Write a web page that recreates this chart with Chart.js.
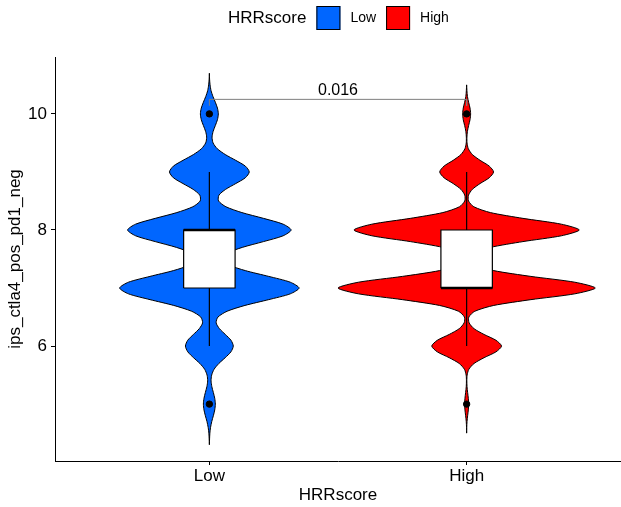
<!DOCTYPE html>
<html>
<head>
<meta charset="utf-8">
<script src="https://cdn.jsdelivr.net/npm/chart.js@4/dist/chart.umd.min.js"></script>
<style>
  html, body { margin: 0; padding: 0; background: #fff; overflow: hidden; }
  canvas { display: block; }
</style>
</head>
<body>
<canvas id="canvas" width="621" height="507"></canvas>
<script>
// groups
var categories = ['Low', 'High'];
var groupColors = ['#0066FF', '#FF0000'];
var legendTitle = 'HRRscore';
var yTitle = 'ips_ctla4_pos_pd1_neg';

// violin density profiles (value grid + density)
var lowGridY = [4.3, 4.4, 4.5, 4.6, 4.7, 4.8, 4.9, 5.0, 5.1, 5.2, 5.3, 5.4, 5.5, 5.6, 5.7, 5.8, 5.9,
    6.0, 6.1, 6.2, 6.3, 6.4, 6.5, 6.6, 6.7, 6.8, 6.9, 7.0, 7.1, 7.2, 7.3, 7.4, 7.5, 7.6, 7.7, 7.8, 7.9,
    8.0, 8.1, 8.2, 8.3, 8.4, 8.5, 8.6, 8.7, 8.8, 8.9, 9.0, 9.1, 9.2, 9.3, 9.4, 9.5, 9.6, 9.7, 9.8, 9.9,
    10.0, 10.1, 10.2, 10.3, 10.4, 10.5, 10.6, 10.7];
var lowDensity = [0.000, 0.002, 0.005, 0.012, 0.024, 0.040, 0.054, 0.060, 0.054, 0.040, 0.025, 0.017, 0.023, 0.047, 0.095, 0.159, 0.216,
    0.240, 0.217, 0.160, 0.101, 0.068, 0.086, 0.178, 0.357, 0.595, 0.812, 0.900, 0.812, 0.596, 0.361, 0.192, 0.130, 0.179, 0.330, 0.543, 0.740,
    0.820, 0.740, 0.543, 0.326, 0.166, 0.092, 0.096, 0.163, 0.265, 0.361, 0.400, 0.361, 0.264, 0.159, 0.079, 0.037, 0.027, 0.038, 0.060, 0.081,
    0.090, 0.081, 0.060, 0.036, 0.017, 0.007, 0.002, 0.000];
var highGridY = [4.5, 4.6, 4.7, 4.8, 4.9, 5.0, 5.1, 5.2, 5.3, 5.4, 5.5, 5.6, 5.7, 5.8, 5.9,
    6.0, 6.1, 6.2, 6.3, 6.4, 6.5, 6.6, 6.7, 6.8, 6.9, 7.0, 7.1, 7.2, 7.3, 7.4, 7.5, 7.6, 7.7, 7.8, 7.9,
    8.0, 8.1, 8.2, 8.3, 8.4, 8.5, 8.6, 8.7, 8.8, 8.9, 9.0, 9.1, 9.2, 9.3, 9.4, 9.5, 9.6, 9.7, 9.8, 9.9,
    10.0, 10.1, 10.2, 10.3, 10.4, 10.5];
var highDensity = [0.000, 0.001, 0.004, 0.010, 0.017, 0.020, 0.017, 0.010, 0.004, 0.002, 0.005, 0.022, 0.074, 0.175, 0.294,
    0.350, 0.294, 0.175, 0.074, 0.025, 0.022, 0.082, 0.272, 0.645, 1.085, 1.290, 1.085, 0.645, 0.272, 0.083, 0.032, 0.074, 0.239, 0.565, 0.950,
    1.130, 0.950, 0.565, 0.238, 0.072, 0.019, 0.019, 0.057, 0.135, 0.227, 0.270, 0.227, 0.135, 0.057, 0.017, 0.004, 0.003, 0.008, 0.020, 0.034,
    0.040, 0.034, 0.020, 0.008, 0.003, 0.000];

// boxplot stats
var boxQ1 = [7, 7];
var boxMedian = [8, 7];
var boxQ3 = [8, 8];
var whiskerLow = [6, 6];
var whiskerHigh = [9, 9];
var outliers = [[5, 10], [5, 10]];

var yTicks = [6, 8, 10];
var pValue = '0.016';

var FONT = "'Liberation Sans', Arial, sans-serif";
var DENS_W = 0.3876;   // density -> category units
var BOX_HALF = 0.1;
var BRACKET_Y = 10.25, BRACKET_TIP = 10.14;

function violinPoints(center, ys, ds) {
    var pts = [];
    for (var i = 0; i < ys.length; i++) pts.push({ x: center + ds[i] * DENS_W, y: ys[i] });
    for (var j = ys.length - 1; j >= 0; j--) pts.push({ x: center - ds[j] * DENS_W, y: ys[j] });
    return pts;
}

var datasets = [];
var profiles = [[lowGridY, lowDensity], [highGridY, highDensity]];

categories.forEach(function (c, i) {
    var cx = i + 1;
    datasets.push({
        label: c,
        data: violinPoints(cx, profiles[i][0], profiles[i][1]),
        showLine: true, fill: 'shape', tension: 0.25,
        backgroundColor: groupColors[i], borderColor: '#000', borderWidth: 1,
        pointRadius: 0, pointHitRadius: 0, order: 10
    });
    datasets.push({
        label: c + ' whisker',
        data: [{ x: cx, y: whiskerLow[i] }, { x: cx, y: whiskerHigh[i] }],
        showLine: true, fill: false, borderColor: '#000', borderWidth: 1.2,
        pointRadius: 0, order: 8
    });
    datasets.push({
        label: c + ' box',
        data: [{ x: cx - BOX_HALF, y: boxQ1[i] }, { x: cx + BOX_HALF, y: boxQ1[i] }, { x: cx + BOX_HALF, y: boxQ3[i] },
               { x: cx - BOX_HALF, y: boxQ3[i] }, { x: cx - BOX_HALF, y: boxQ1[i] }],
        showLine: true, fill: 'shape', tension: 0,
        backgroundColor: '#fff', borderColor: '#000', borderWidth: 1.2,
        pointRadius: 0, order: 6
    });
    datasets.push({
        label: c + ' median',
        data: [{ x: cx - BOX_HALF, y: boxMedian[i] }, { x: cx + BOX_HALF, y: boxMedian[i] }],
        showLine: true, fill: false, borderColor: '#000', borderWidth: 2.6,
        pointRadius: 0, order: 5
    });
    datasets.push({
        label: c + ' outliers',
        data: outliers[i].map(function (v) { return { x: cx, y: v }; }),
        showLine: false, pointRadius: 3.2, pointBackgroundColor: '#000', pointBorderColor: '#000',
        order: 4
    });
});

datasets.push({
    label: 'bracket',
    data: [{ x: 1, y: BRACKET_TIP }, { x: 1, y: BRACKET_Y }, { x: 2, y: BRACKET_Y }, { x: 2, y: BRACKET_TIP }],
    showLine: true, fill: false, borderColor: '#7f7f7f', borderWidth: 1, pointRadius: 0, order: 2
});

var annotate = {
    id: 'annotate',
    afterDatasetsDraw: function (chart) {
        var ctx = chart.ctx, xs = chart.scales.x, ys = chart.scales.y;
        ctx.save();
        ctx.fillStyle = '#000';
        ctx.font = '16px ' + FONT;
        ctx.textAlign = 'center';
        ctx.textBaseline = 'alphabetic';
        ctx.fillText(pValue, xs.getPixelForValue(1.5), ys.getPixelForValue(BRACKET_Y) - 4);
        ctx.restore();
    },
    afterDraw: function (chart) {
        // legend: title + keys in one row
        var ctx = chart.ctx;
        ctx.save();
        ctx.textBaseline = 'middle';
        ctx.textAlign = 'left';
        ctx.fillStyle = '#000';
        ctx.font = '17px ' + FONT;
        var x = 228, yMid = 18;
        ctx.fillText(legendTitle, x, yMid);
        x += ctx.measureText(legendTitle).width + 10;
        ctx.font = '14px ' + FONT;
        categories.forEach(function (c, i) {
            ctx.fillStyle = groupColors[i];
            ctx.fillRect(x, 6, 24, 24);
            ctx.strokeStyle = '#000';
            ctx.lineWidth = 1;
            ctx.strokeRect(x + 0.5, 6.5, 23, 23);
            ctx.fillStyle = '#000';
            ctx.fillText(c, x + 34, yMid);
            x += 34 + ctx.measureText(c).width + 10;
        });
        ctx.restore();
    }
};

var ctx = document.getElementById('canvas').getContext('2d');
var pChart = new Chart(ctx, {
    type: 'scatter',
    data: { datasets: datasets },
    options: {
        responsive: false,
        animation: false,
        layout: { autoPadding: false, padding: { top: 57, right: 0, bottom: 0, left: 0 } },
        plugins: {
            legend: { display: false },
            tooltip: { enabled: false },
            filler: { drawTime: 'beforeDatasetDraw' }
        },
        scales: {
            x: {
                type: 'linear', min: 0.4, max: 2.6,
                afterBuildTicks: function (s) { s.ticks = categories.map(function (c, i) { return { value: i + 1 }; }); },
                afterFit: function (s) { s.height = 46; s.paddingLeft = 0; s.paddingRight = 0; },
                ticks: {
                    color: '#000', font: { size: 17, family: FONT }, padding: 1,
                    callback: function (v) { return categories[v - 1]; }
                },
                grid: { display: true, drawOnChartArea: false, drawTicks: true, tickLength: 4, color: '#000' },
                border: { display: true, color: '#000', width: 1 },
                title: { display: true, text: legendTitle, color: '#000', font: { size: 17, family: FONT }, padding: { top: 0, bottom: 1 } }
            },
            y: {
                type: 'linear', min: 4.02, max: 10.98,
                afterBuildTicks: function (s) { s.ticks = yTicks.map(function (v) { return { value: v }; }); },
                afterFit: function (s) { s.width = 55; s.paddingTop = 0; s.paddingBottom = 0; },
                ticks: { color: '#000', font: { size: 17, family: FONT }, padding: 4 },
                grid: { display: true, drawOnChartArea: false, drawTicks: true, tickLength: 4, color: '#000' },
                border: { display: true, color: '#000', width: 1 },
                title: { display: true, text: yTitle, color: '#000', font: { size: 17, family: FONT }, padding: { top: 5, bottom: 0 } }
            }
        }
    },
    plugins: [annotate]
});
</script>
</body>
</html>
